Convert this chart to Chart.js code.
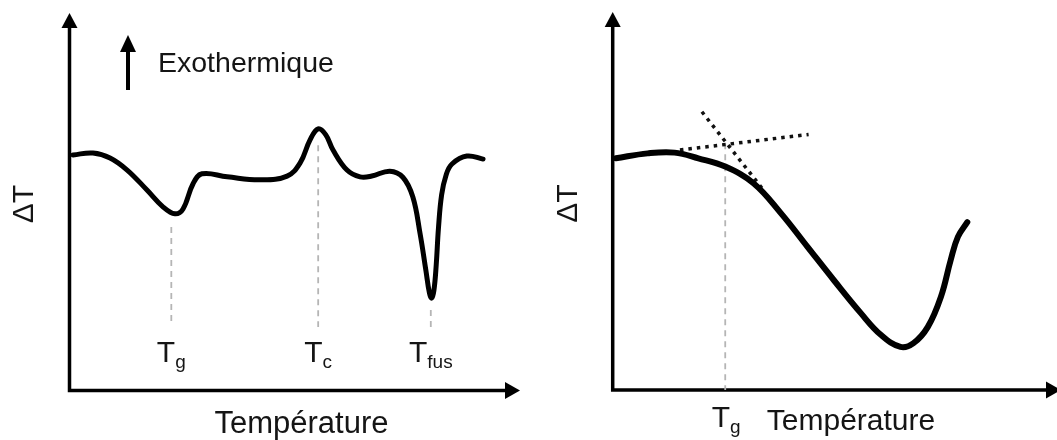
<!DOCTYPE html>
<html>
<head>
<meta charset="utf-8">
<script src="https://cdn.jsdelivr.net/npm/chart.js@4.4.0/dist/chart.umd.min.js"></script>
<style>
  html, body { margin: 0; padding: 0; background: #fff; }
  #wrap { position: relative; width: 1057px; height: 440px; overflow: hidden; }
  canvas { position: absolute; top: 0; }
</style>
</head>
<body>
<div id="wrap">
  <canvas id="c1" width="530" height="440" style="left:0"></canvas>
  <canvas id="c2" width="535" height="440" style="left:530px"></canvas>
</div>
<script>
// ---- Data (arbitrary units: temperature 0-100, ΔT 0-100) ----
const leftTemp = [0.8, 5.2, 9.0, 12.8, 17.2, 20.8, 23.4, 25.2, 27.4, 29.4, 35.0, 42.3, 48.3, 51.2, 53.4, 55.2, 56.9, 58.5, 61.6, 64.5, 67.1, 71.1, 74.0, 76.2, 77.8, 79.1, 79.9, 80.4, 80.9, 81.4, 81.9, 82.6, 83.6, 84.9, 88.2, 91.8];
const leftDT   = [62.4, 62.9, 61.6, 58.4, 53.1, 48.6, 46.8, 48.1, 54.7, 57.4, 56.6, 55.8, 56.8, 60.3, 66.4, 69.3, 67.7, 63.7, 58.4, 56.6, 56.8, 58.1, 56.5, 51.3, 41.7, 31.9, 25.8, 24.5, 26.6, 33.2, 43.0, 51.8, 57.1, 60.0, 62.1, 61.3];

const leftMarkerNames = ['g', 'c', 'fus'];
const leftMarkerTemp  = [22.6, 55.2, 80.2];
const leftMarkerTop   = [43.3, 65.0, 21.3];
const leftMarkerBot   = [17.9, 16.8, 16.0];

const rightTemp = [0.7, 7.8, 13.8, 19.1, 25.1, 31.4, 37.5, 43.5, 49.3, 55.3, 59.8, 64.2, 67.1, 70.3, 73.2, 75.4, 77.0, 79.1];
const rightDT   = [61.3, 62.6, 62.8, 61.3, 59.1, 54.7, 46.8, 37.8, 29.1, 20.4, 14.6, 11.4, 12.4, 16.7, 24.6, 34.4, 40.5, 44.4];

const tangent1Temp = [15.0, 43.7];
const tangent1DT   = [63.5, 67.6];
const tangent2Temp = [19.9, 33.3];
const tangent2DT   = [73.6, 53.4];

const rightMarkerTemp = 25.1;
const rightMarkerTop  = 65.3;
const rightMarkerBot  = 0;

const xTitle = 'Température';
const yTitle = 'ΔT';
const exoLabel = 'Exothermique';

const FONT = '"Liberation Sans", Arial, sans-serif';

function pts(xs, ys) { return xs.map((x, i) => ({ x, y: ys[i] })); }

const arrowAxes = {
  id: 'arrowAxes',
  beforeDatasetsDraw(chart) {
    const ctx = chart.ctx;
    const { left, top, right, bottom } = chart.chartArea;
    ctx.save();
    ctx.strokeStyle = '#000';
    ctx.fillStyle = '#000';
    ctx.lineWidth = 3.5;
    ctx.beginPath();
    ctx.moveTo(left, bottom + 1.75);
    ctx.lineTo(left, top + 10);
    ctx.moveTo(left - 1.75, bottom);
    ctx.lineTo(right - 10, bottom);
    ctx.stroke();
    ctx.beginPath();
    ctx.moveTo(left, top);
    ctx.lineTo(left - 8, top + 15);
    ctx.lineTo(left + 8, top + 15);
    ctx.closePath();
    ctx.fill();
    ctx.beginPath();
    ctx.moveTo(right, bottom);
    ctx.lineTo(right - 15, bottom - 8.5);
    ctx.lineTo(right - 15, bottom + 8.5);
    ctx.closePath();
    ctx.fill();
    ctx.restore();
  }
};

function drawSubLabel(ctx, cx, baseline, main, sub) {
  ctx.font = '30px ' + FONT;
  const w1 = ctx.measureText(main).width;
  ctx.font = '19px ' + FONT;
  const w2 = ctx.measureText(sub).width;
  const x0 = cx - (w1 + w2) / 2;
  ctx.textAlign = 'left';
  ctx.textBaseline = 'alphabetic';
  ctx.font = '30px ' + FONT;
  ctx.fillText(main, x0, baseline);
  ctx.font = '19px ' + FONT;
  ctx.fillText(sub, x0 + w1, baseline + 6);
}

function drawRotated(ctx, text, cx, cy, size) {
  ctx.save();
  ctx.translate(cx, cy);
  ctx.rotate(-Math.PI / 2);
  ctx.font = size + 'px ' + FONT;
  ctx.textAlign = 'center';
  ctx.textBaseline = 'middle';
  ctx.fillText(text, 0, 0);
  ctx.restore();
}

const leftText = {
  id: 'leftText',
  afterDraw(chart) {
    const ctx = chart.ctx;
    const xs = chart.scales.x;
    ctx.save();
    ctx.fillStyle = '#151515';
    leftMarkerNames.forEach((n, i) => {
      drawSubLabel(ctx, xs.getPixelForValue(leftMarkerTemp[i]), 362, 'T', n);
    });
    ctx.font = '31px ' + FONT;
    ctx.textAlign = 'center';
    ctx.textBaseline = 'alphabetic';
    ctx.fillText(xTitle, 301.5, 433);
    drawRotated(ctx, yTitle, 25, 204, 30);
    ctx.font = '28.5px ' + FONT;
    ctx.textAlign = 'left';
    ctx.fillText(exoLabel, 158, 72);
    ctx.strokeStyle = '#000';
    ctx.fillStyle = '#000';
    ctx.lineWidth = 4;
    ctx.beginPath();
    ctx.moveTo(128, 90);
    ctx.lineTo(128, 48);
    ctx.stroke();
    ctx.beginPath();
    ctx.moveTo(128, 35);
    ctx.lineTo(120, 52);
    ctx.lineTo(136, 52);
    ctx.closePath();
    ctx.fill();
    ctx.restore();
  }
};

const rightText = {
  id: 'rightText',
  afterDraw(chart) {
    const ctx = chart.ctx;
    const xs = chart.scales.x;
    ctx.save();
    ctx.fillStyle = '#151515';
    drawSubLabel(ctx, xs.getPixelForValue(rightMarkerTemp) + 1, 427, 'T', 'g');
    ctx.font = '30px ' + FONT;
    ctx.textAlign = 'center';
    ctx.textBaseline = 'alphabetic';
    ctx.fillText(xTitle, 321, 430);
    drawRotated(ctx, yTitle, 38.5, 203.5, 30);
    ctx.restore();
  }
};

const scalesCfg = {
  x: { type: 'linear', min: 0, max: 100, display: false },
  y: { type: 'linear', min: 0, max: 100, display: false }
};

const baseOpts = (padding) => ({
  responsive: false,
  animation: false,
  devicePixelRatio: 1,
  layout: { padding },
  scales: scalesCfg,
  plugins: { legend: { display: false }, tooltip: { enabled: false } },
  elements: { point: { radius: 0 } }
});

const curveStyle = (w) => ({
  borderColor: '#000', borderWidth: w, showLine: true, fill: false,
  tension: 0.4, pointRadius: 0, borderCapStyle: 'round', borderJoinStyle: 'round'
});
const dashStyle = {
  borderColor: '#b5b5b5', borderWidth: 1.8, borderDash: [6, 5], showLine: true, pointRadius: 0, tension: 0
};
const dotStyle = {
  borderColor: '#111', borderWidth: 3.5, borderDash: [3.5, 5], showLine: true, pointRadius: 0, tension: 0, borderCapStyle: 'butt'
};

new Chart(document.getElementById('c1'), {
  type: 'scatter',
  data: {
    datasets: [
      Object.assign({ data: pts(leftTemp, leftDT) }, curveStyle(5)),
      ...leftMarkerTemp.map((t, i) => Object.assign({ data: [{ x: t, y: leftMarkerTop[i] }, { x: t, y: leftMarkerBot[i] }] }, dashStyle))
    ]
  },
  options: baseOpts({ left: 69.5, top: 13, right: 10, bottom: 49.5 }),
  plugins: [arrowAxes, leftText]
});

new Chart(document.getElementById('c2'), {
  type: 'scatter',
  data: {
    datasets: [
      Object.assign({ data: pts(rightTemp, rightDT) }, curveStyle(6)),
      Object.assign({ data: pts(tangent1Temp, tangent1DT) }, dotStyle),
      Object.assign({ data: pts(tangent2Temp, tangent2DT) }, dotStyle),
      Object.assign({ data: [{ x: rightMarkerTemp, y: rightMarkerTop }, { x: rightMarkerTemp, y: rightMarkerBot }] }, dashStyle)
    ]
  },
  options: baseOpts({ left: 82.7, top: 12, right: 4, bottom: 50 }),
  plugins: [arrowAxes, rightText]
});
</script>
</body>
</html>
